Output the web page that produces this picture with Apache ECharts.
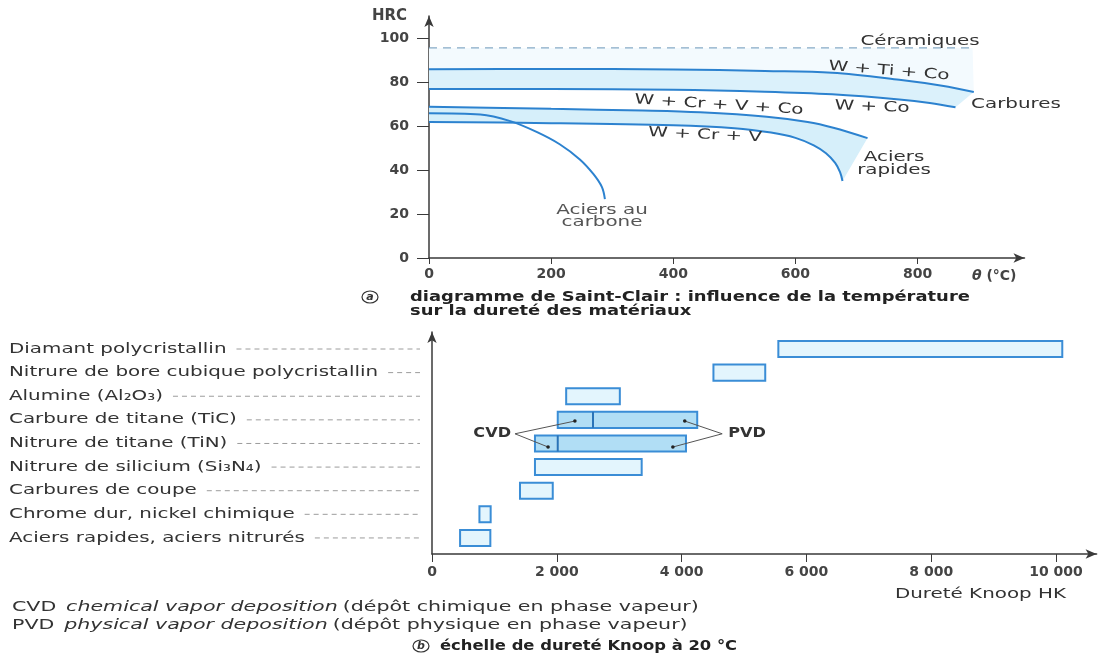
<!DOCTYPE html>
<html><head><meta charset="utf-8">
<script src="https://cdn.jsdelivr.net/npm/echarts@6/dist/echarts.min.js"></script>
<style>html,body{margin:0;padding:0;background:#fff}#c{width:1101px;height:654px}</style>
</head><body><div id="c"></div>
<script>
// ---------- Panel (a): Saint-Clair diagram, HRC vs temperature (°C)
const tempTicks = [0, 200, 400, 600, 800];
const hrcTicks = [0, 20, 40, 60, 80, 100];
const ceramics = [[0, 95.5], [890, 95.5]];
const carbWTiCo = [[0, 85.8], [200, 85.9], [400, 85.7], [550, 85.0], [660, 84.2], [770, 81.0], [840, 78.3], [892, 75.5]];
const carbWCo = [[0, 76.8], [200, 76.8], [400, 76.5], [550, 75.6], [660, 74.4], [770, 72.1], [820, 70.5], [862, 68.5]];
const hssWCrVCo = [[0, 68.8], [200, 67.8], [350, 67.0], [444, 66.2], [553, 64.2], [620, 61.8], [662, 59.2], [718, 54.5]];
const hssWCrV = [[0, 61.8], [200, 61.3], [400, 60.3], [500, 59.0], [560, 57.0], [600, 54.6], [630, 51.2], [650, 47.6], [665, 43.2], [673, 39.0], [677, 35.0]];
const carbonSteel = [[0, 65.8], [84, 65.2], [133, 62.2], [177, 57.2], [214, 51.7], [247, 44.8], [269, 38.2], [283, 32.3], [288, 26.8]];

// ---------- Panel (b): Knoop hardness scale at 20 °C (top to bottom)
const knoopCategories = [
  'Diamant polycristallin',
  'Nitrure de bore cubique polycristallin',
  'Alumine (Al₂O₃)',
  'Carbure de titane (TiC)',
  'Nitrure de titane (TiN)',
  'Nitrure de silicium (Si₃N₄)',
  'Carbures de coupe',
  'Chrome dur, nickel chimique',
  'Aciers rapides, aciers nitrurés'
];
const knoopMin = [5550, 4510, 2150, 2015, 1650, 1650, 1410, 760, 450];
const knoopMax = [10100, 5340, 3010, 4250, 4070, 3360, 1935, 940, 935];
const knoopSplit = [-1, -1, -1, 2580, 2015, -1, -1, -1, -1]; // CVD | PVD boundary
const knoopTicks = [0, 2000, 4000, 6000, 8000, 10000];
const cvdTargets = [[2290, 4.95], [1860, 3.85]];
const pvdTargets = [[4050, 4.95], [3860, 3.85]];
const cvdLabelAt = [1330, 4.41];
const pvdLabelAt = [4650, 4.41];

const FONT = '"DejaVu Sans", "Liberation Sans", sans-serif';
const BLUE = '#2c82cf';
const AXIS = '#3a3a3a';
const SX = 1.42;   // horizontal stretch of the scanned lettering
const SXB = 1.28;  // same, for bold captions
const nRows = knoopCategories.length;

const measureCtx = document.createElement('canvas').getContext('2d');
measureCtx.font = '14px "DejaVu Sans"';

const chart = echarts.init(document.getElementById('c'));

function pts(api, arr) { return arr.map(p => api.coord(p)); }

const lineSeries = (data) => ({
  type: 'line', xAxisIndex: 0, yAxisIndex: 0, data, smooth: 0.35,
  symbol: 'none', silent: true, z: 3, lineStyle: { color: BLUE, width: 2 }
});

const txt = (x, y, text, extra) => Object.assign({ type: 'text', x, y, z: 100, scaleX: SX,
  style: { text, align: 'center', verticalAlign: 'middle', font: '14px ' + FONT, fill: '#333' } }, extra || {});

const option = {
  animation: false,
  backgroundColor: '#fff',
  grid: [
    { left: 429, top: 16, width: 595.5, height: 242 },
    { left: 432, top: 332, width: 664.6, height: 222 }
  ],
  xAxis: [
    {
      gridIndex: 0, type: 'value', min: 0, max: 975,
      name: '{i|θ} (°C)', nameLocation: 'end', nameGap: 0,
      nameTextStyle: { align: 'right', verticalAlign: 'top', padding: [11, 8, 0, 0], fontFamily: FONT, fontSize: 14, fontWeight: 'bold', color: '#444',
        rich: { i: { fontStyle: 'italic', fontFamily: FONT, fontSize: 14, color: '#444' } } },
      axisLine: { onZero: false, lineStyle: { color: AXIS, width: 1.5 }, symbol: ['none', 'arrow'], symbolSize: [7, 11] },
      axisTick: { customValues: tempTicks, length: 6, lineStyle: { color: AXIS } },
      axisLabel: { customValues: tempTicks, margin: 9, fontFamily: FONT, fontSize: 14, fontWeight: 'bold', color: '#444' },
      splitLine: { show: false }
    },
    {
      gridIndex: 1, type: 'value', min: 0, max: 10650,
      axisLine: { onZero: false, lineStyle: { color: AXIS, width: 1.5 }, symbol: ['none', 'arrow'], symbolSize: [7, 11] },
      axisTick: { customValues: knoopTicks, length: 8, lineStyle: { color: AXIS } },
      axisLabel: { customValues: knoopTicks, margin: 11, fontFamily: FONT, fontSize: 14, fontWeight: 'bold', color: '#444',
        formatter: v => v === 0 ? '0' : (v / 1000) + ' 000' },
      splitLine: { show: false }
    }
  ],
  yAxis: [
    {
      gridIndex: 0, type: 'value', min: 0, max: 110,
      name: 'HRC', nameLocation: 'end', nameGap: 0,
      nameTextStyle: { align: 'right', verticalAlign: 'middle', padding: [0, 22, 0, 0], fontFamily: FONT, fontSize: 15, fontWeight: 'bold', color: '#444' },
      axisLine: { onZero: false, lineStyle: { color: AXIS, width: 1.5 }, symbol: ['none', 'arrow'], symbolSize: [7, 11] },
      axisTick: { customValues: hrcTicks, length: 12, lineStyle: { color: AXIS } },
      axisLabel: { customValues: hrcTicks, margin: 20, fontFamily: FONT, fontSize: 14, fontWeight: 'bold', color: '#444' },
      splitLine: { show: false }
    },
    {
      gridIndex: 1, type: 'value', min: -0.68, max: 8.72,
      axisLine: { onZero: false, lineStyle: { color: AXIS, width: 1.5 }, symbol: ['none', 'arrow'], symbolSize: [7, 11] },
      axisTick: { show: false },
      axisLabel: { show: false },
      splitLine: { show: false }
    }
  ],
  series: [
    // shaded domains of panel (a)
    {
      type: 'custom', xAxisIndex: 0, yAxisIndex: 0, data: [[0, 0]], z: 1, silent: true,
      renderItem: (params, api) => {
        if (params.dataIndex !== 0) return null;
        const band = (upper, lower, fill) => ({
          type: 'polygon', shape: { points: pts(api, upper).concat(pts(api, lower).reverse()) }, style: { fill }
        });
        return { type: 'group', children: [
          band(ceramics, carbWTiCo, '#f3fafe'),
          band(carbWTiCo, carbWCo, '#dbf1fb'),
          band(hssWCrVCo, hssWCrV, '#d6effa')
        ] };
      }
    },
    {
      type: 'line', xAxisIndex: 0, yAxisIndex: 0, data: ceramics, symbol: 'none', silent: true, z: 3,
      lineStyle: { color: '#86aac6', width: 1.2, type: [8, 6] }
    },
    lineSeries(carbWTiCo),
    lineSeries(carbWCo),
    lineSeries(hssWCrVCo),
    lineSeries(hssWCrV),
    lineSeries(carbonSteel),
    // category names with leader dashes, panel (b)
    {
      type: 'custom', xAxisIndex: 1, yAxisIndex: 1, clip: false, silent: true,
      data: knoopCategories.map((c, i) => [0, nRows - 1 - i]),
      renderItem: (params, api) => {
        const p = api.coord([0, api.value(1)]);
        const label = knoopCategories[params.dataIndex];
        const w = measureCtx.measureText(label).width * SX;
        return { type: 'group', children: [
          { type: 'text', x: 9, y: p[1], scaleX: SX, style: { text: label, align: 'left', verticalAlign: 'middle', font: '14px ' + FONT, fill: '#333' } },
          { type: 'line', shape: { x1: 9 + w + 10, y1: p[1], x2: p[0] - 12, y2: p[1] },
            style: { stroke: '#9c9c9c', lineWidth: 1, lineDash: [5, 4] } }
        ] };
      }
    },
    // hardness ranges
    {
      type: 'custom', xAxisIndex: 1, yAxisIndex: 1, silent: true, z: 2,
      encode: { x: [0, 1], y: 2 },
      data: knoopCategories.map((c, i) => [knoopMin[i], knoopMax[i], nRows - 1 - i, knoopSplit[i]]),
      renderItem: (params, api) => {
        const x0 = api.value(0), x1 = api.value(1), r = api.value(2), s = api.value(3);
        const p0 = api.coord([x0, r]), p1 = api.coord([x1, r]);
        const h = api.size([0, 0.68])[1];
        const coated = s >= 0;
        const rect = { x: p0[0], y: p0[1] - h / 2, width: p1[0] - p0[0], height: h };
        const children = [{ type: 'rect', shape: rect,
          style: { fill: coated ? '#b1def5' : '#e3f5fd', stroke: '#3a8dd6', lineWidth: 2 } }];
        if (coated) {
          const ps = api.coord([s, r]);
          children.push({ type: 'line', shape: { x1: ps[0], y1: rect.y, x2: ps[0], y2: rect.y + h },
            style: { stroke: '#2a74b8', lineWidth: 2 } });
        }
        return { type: 'group', children };
      }
    },
    // CVD / PVD callouts
    {
      type: 'custom', xAxisIndex: 1, yAxisIndex: 1, clip: false, silent: true, z: 4, data: [[0, 0]],
      renderItem: (params, api) => {
        const children = [];
        const c = api.coord(cvdLabelAt), p = api.coord(pvdLabelAt);
        children.push({ type: 'text', x: c[0] - 4, y: c[1], scaleX: 1.15, style: { text: 'CVD', align: 'right', verticalAlign: 'middle', font: 'bold 14px ' + FONT, fill: '#333' } });
        children.push({ type: 'text', x: p[0] + 6, y: p[1], scaleX: 1.15, style: { text: 'PVD', align: 'left', verticalAlign: 'middle', font: 'bold 14px ' + FONT, fill: '#333' } });
        const callout = (from, targets) => targets.forEach(t => {
          const q = api.coord(t);
          children.push({ type: 'line', shape: { x1: from[0], y1: from[1], x2: q[0], y2: q[1] }, style: { stroke: '#555', lineWidth: 1 } });
          children.push({ type: 'circle', shape: { cx: q[0], cy: q[1], r: 1.8 }, style: { fill: '#222' } });
        });
        callout(c, cvdTargets);
        callout(p, pvdTargets);
        return { type: 'group', children };
      }
    }
  ],
  graphic: [
    // curve labels, panel (a)
    txt(920, 41.5, 'Céramiques'),
    txt(889, 71, 'W + Ti + Co', { rotation: -0.08 }),
    txt(1016, 104, 'Carbures'),
    txt(872, 107, 'W + Co', { rotation: -0.035 }),
    txt(719, 105, 'W + Cr + V + Co', { rotation: -0.063 }),
    txt(705, 135, 'W + Cr + V', { rotation: -0.047 }),
    txt(894, 163.5, '', { style: { text: 'Aciers\nrapides', align: 'center', verticalAlign: 'middle', lineHeight: 13, font: '14px ' + FONT, fill: '#333' } }),
    txt(602, 216, '', { style: { text: 'Aciers au\ncarbone', align: 'center', verticalAlign: 'middle', lineHeight: 12, font: '14px ' + FONT, fill: '#555' } }),
    // caption (a)
    { type: 'ellipse', z: 100, shape: { cx: 370, cy: 297, rx: 8, ry: 6 }, style: { fill: 'none', stroke: '#333', lineWidth: 1.2 } },
    { type: 'text', z: 100, x: 370, y: 297, style: { text: 'a', align: 'center', verticalAlign: 'middle', font: 'italic bold 11px ' + FONT, fill: '#333' } },
    txt(410, 297, '', { scaleX: SXB, style: { text: 'diagramme de Saint-Clair : influence de la température', verticalAlign: 'middle', font: 'bold 14px ' + FONT, fill: '#222' } }),
    txt(410, 311.5, '', { scaleX: SXB, style: { text: 'sur la dureté des matériaux', verticalAlign: 'middle', font: 'bold 14px ' + FONT, fill: '#222' } }),
    // panel (b) texts
    txt(1066, 594, '', { style: { text: 'Dureté Knoop HK', align: 'right', verticalAlign: 'middle', font: '14px ' + FONT, fill: '#333' } }),
    txt(12, 607, '', { scaleX: 1.47, style: { text: '{n|CVD}  {i|chemical vapor deposition} {n|(dépôt chimique en phase vapeur)}', verticalAlign: 'middle',
      rich: { n: { font: '14px ' + FONT, fill: '#333' }, i: { font: 'italic 14px ' + FONT, fill: '#333' } } } }),
    txt(12, 625, '', { scaleX: 1.47, style: { text: '{n|PVD}  {i|physical vapor deposition} {n|(dépôt physique en phase vapeur)}', verticalAlign: 'middle',
      rich: { n: { font: '14px ' + FONT, fill: '#333' }, i: { font: 'italic 14px ' + FONT, fill: '#333' } } } }),
    { type: 'ellipse', z: 100, shape: { cx: 421, cy: 646, rx: 8, ry: 6 }, style: { fill: 'none', stroke: '#333', lineWidth: 1.2 } },
    { type: 'text', z: 100, x: 421, y: 646, style: { text: 'b', align: 'center', verticalAlign: 'middle', font: 'italic bold 11px ' + FONT, fill: '#333' } },
    txt(440, 646, '', { scaleX: 1.17, style: { text: 'échelle de dureté Knoop à 20 °C', verticalAlign: 'middle', font: 'bold 14px ' + FONT, fill: '#222' } })
  ]
};
chart.setOption(option);
</script></body></html>
